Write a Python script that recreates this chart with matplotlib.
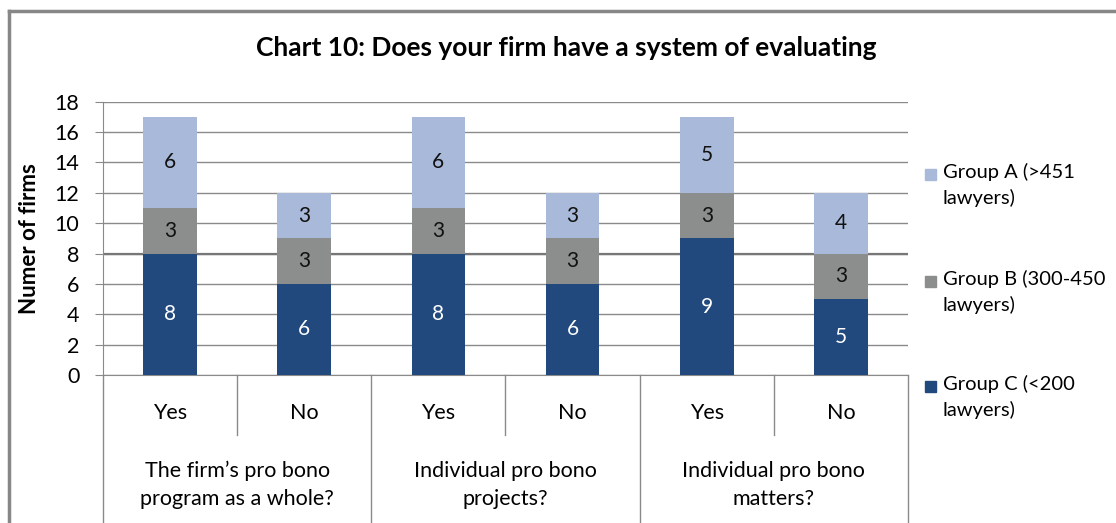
import matplotlib
matplotlib.use('Agg')
import matplotlib.pyplot as plt
from matplotlib.lines import Line2D
from matplotlib.patches import Rectangle
import matplotlib.transforms as mtransforms

plt.rcParams['font.family'] = ['Lato', 'DejaVu Sans']

# data
answers = ['Yes', 'No', 'Yes', 'No', 'Yes', 'No']
questions = ['The firm\u2019s pro bono\nprogram as a whole?',
             'Individual pro bono\nprojects?',
             'Individual pro bono\nmatters?']
group_c = [8, 6, 8, 6, 9, 5]
group_b = [3, 3, 3, 3, 3, 3]
group_a = [6, 3, 6, 3, 5, 4]
series_names = ['Group A (>451\nlawyers)', 'Group B (300-450\nlawyers)', 'Group C (<200\nlawyers)']
colors = {'A': '#a8b9d9', 'B': '#8b8e8c', 'C': '#21497d'}
grid_color = '#8a8a8a'

W, H = 1116, 523
fig = plt.figure(figsize=(W / 100, H / 100), dpi=100)

# plot area in pixel terms
left, right, top, bottom = 103, 908, 101.7, 375
ax = fig.add_axes([left / W, 1 - bottom / H, (right - left) / W, (bottom - top) / H])

x = list(range(len(answers)))
width = 0.4
bottom_b = group_c
bottom_a = [c + b for c, b in zip(group_c, group_b)]

ax.bar(x, group_c, width, color=colors['C'], zorder=3)
ax.bar(x, group_b, width, bottom=bottom_b, color=colors['B'], zorder=3)
ax.bar(x, group_a, width, bottom=bottom_a, color=colors['A'], zorder=3)

# value labels in the middle of each segment
lbl_size = 15
for i in x:
    ax.text(i, group_c[i] / 2, str(group_c[i]), ha='center', va='center',
            color='white', fontsize=lbl_size, zorder=4)
    ax.text(i, bottom_b[i] + group_b[i] / 2, str(group_b[i]), ha='center', va='center',
            color='#111111', fontsize=lbl_size, zorder=4)
    ax.text(i, bottom_a[i] + group_a[i] / 2, str(group_a[i]), ha='center', va='center',
            color='#111111', fontsize=lbl_size, zorder=4)

ax.set_xlim(-0.5, len(answers) - 0.5)
ax.set_ylim(0, 18)
ax.set_yticks(range(0, 19, 2))
ax.tick_params(axis='y', direction='out', length=6, color=grid_color, labelsize=15.5, pad=11)
ax.set_xticks([])
ax.yaxis.grid(True, color=grid_color, linewidth=1)
ax.set_axisbelow(True)
# the 8 line comes out a bit heavier
ax.axhline(8, color='#777777', linewidth=1.6, zorder=1)

for s in ['top', 'right']:
    ax.spines[s].set_visible(False)
ax.spines['left'].set_color(grid_color)
ax.spines['bottom'].set_color(grid_color)

ax.set_ylabel('Numer of firms', fontsize=16, fontweight='bold')
ax.yaxis.set_label_coords(-(left - 40) / (right - left), 0.5)

# two-level category axis drawn below the plot
trans = mtransforms.blended_transform_factory(ax.transData, fig.transFigure)
y0 = 1 - bottom / H
y_mid = 1 - 435 / H
for xv in [-0.5, 1.5, 3.5, 5.5]:
    fig.add_artist(Line2D([xv, xv], [y0, 0], transform=trans, color=grid_color, lw=1))
for xv in [0.5, 2.5, 4.5]:
    fig.add_artist(Line2D([xv, xv], [y0, y_mid], transform=trans, color=grid_color, lw=1))
for i, a in enumerate(answers):
    fig.text(i, 1 - 413 / H, a, transform=trans, ha='center', va='center', fontsize=15.5)
for j, q in enumerate(questions):
    fig.text(2 * j + 0.5, 1 - 485 / H, q, transform=trans, ha='center', va='center',
             fontsize=15.5, linespacing=1.5)

# title
fig.text(566 / W, 1 - 48 / H, 'Chart 10: Does your firm have a system of evaluating',
         ha='center', va='center', fontsize=19, fontweight='bold')

# legend
legend_rows = [(175, colors['A'], series_names[0]),
               (282, colors['B'], series_names[1]),
               (387, colors['C'], series_names[2])]
for ypix, col, name in legend_rows:
    fig.add_artist(Rectangle((925 / W, 1 - (ypix + 5) / H), 11 / W, 11 / H,
                             transform=fig.transFigure, color=col))
    fig.text(943 / W, 1 - (ypix - 12) / H, name, ha='left', va='top',
             fontsize=14.5, linespacing=1.55)

# outer frame of the chart
frame_x, frame_y = 9 / W, 1 - 11 / H
fig.add_artist(Line2D([frame_x, 1], [frame_y, frame_y], transform=fig.transFigure,
                      color='#878787', lw=2.5))
fig.add_artist(Line2D([frame_x, frame_x], [0, frame_y], transform=fig.transFigure,
                      color='#878787', lw=2.5))

fig.savefig('out.png', dpi=100)
